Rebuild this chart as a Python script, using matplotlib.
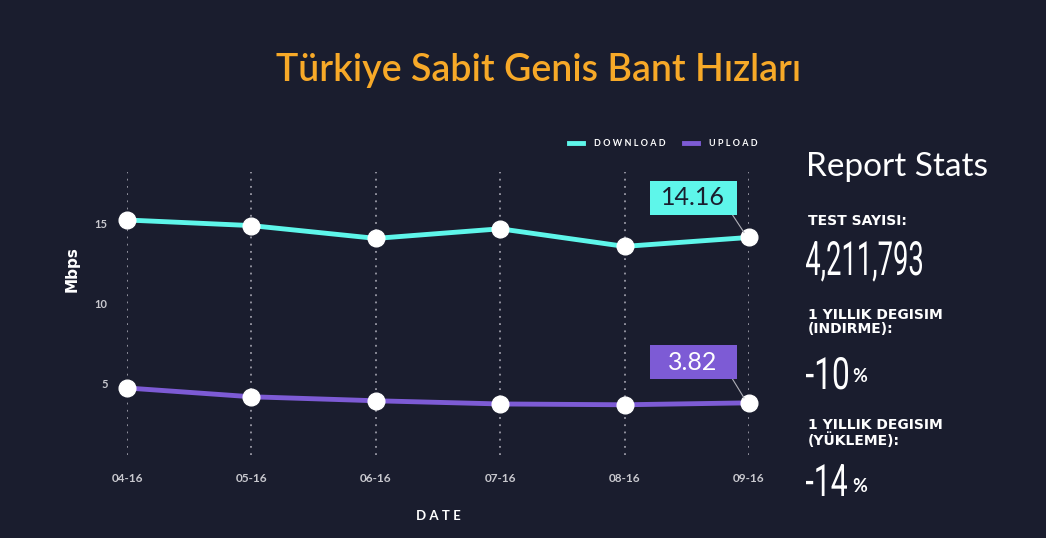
import matplotlib.pyplot as plt
from matplotlib.textpath import TextPath
from matplotlib.patches import PathPatch, Rectangle
from matplotlib.font_manager import FontProperties
from matplotlib.transforms import Affine2D, IdentityTransform

months = ["04-16", "05-16", "06-16", "07-16", "08-16", "09-16"]
download = [15.25, 14.9, 14.1, 14.7, 13.6, 14.16]
upload = [4.75, 4.2, 3.95, 3.75, 3.7, 3.82]
yticks = [5, 10, 15]

stat_labels = ["TEST SAYISI:", "1 YILLIK DEGISIM\n(INDIRME):", "1 YILLIK DEGISIM\n(YÜKLEME):"]
stat_values = ["4,211,793", "-10", "-14"]

BG = '#1a1d2e'
CYAN = '#5ef6ea'
PURPLE = '#7d5bd5'
ORANGE = '#f7a928'
GREY = '#c9c9cf'

plt.rcParams['font.family'] = ['Lato', 'DejaVu Sans']

W, H = 1046, 538
fig = plt.figure(figsize=(W / 100, H / 100), dpi=100, facecolor=BG)


def fx(px):
    return px / W


def fy(py):
    return 1 - py / H


def narrow_text(s, left, base, height, width):
    # condensed numerals: digit path squeezed into a box (pixels, top-left origin)
    prop = FontProperties(family='Roboto', weight='normal')
    tp = TextPath((0, 0), s, size=100, prop=prop)
    ext = tp.get_extents()
    top = TextPath((0, 0), "0", size=100, prop=prop).get_extents().y1
    tr = Affine2D().scale(width / ext.width, height / top)
    tr = tr.translate(left - ext.x0 * width / ext.width, H - base)
    fig.add_artist(PathPatch(tp, transform=tr, fc='white', ec='none'))


ax = fig.add_axes([fx(127), fy(455), fx(749) - fx(127), fy(172) - fy(455)])
ax.set_facecolor(BG)
x = list(range(len(months)))

for xi in x:
    ax.axvline(xi, color='#9a9aa6', linestyle=(0, (1, 3)), linewidth=1.3, zorder=1)

ax.plot(x, download, color=CYAN, linewidth=3.5, zorder=3, clip_on=False)
ax.plot(x, upload, color=PURPLE, linewidth=3.5, zorder=3, clip_on=False)
ax.plot(x, download, 'o', color='white', markersize=12, zorder=4, clip_on=False)
ax.plot(x, upload, 'o', color='white', markersize=12, zorder=4, clip_on=False)

ax.set_xlim(0, 5)
ax.set_ylim(0.56, 18.25)
ax.set_yticks(yticks)
ax.set_yticklabels([str(t) for t in yticks], color=GREY, fontsize=8, fontweight='bold')
ax.set_xticks(x)
ax.set_xticklabels(months, color=GREY, fontsize=8.5, fontweight='bold')
ax.tick_params(length=0, pad=13)
ax.tick_params(axis='y', pad=14)
for s in ax.spines.values():
    s.set_visible(False)

# value callouts on the last point (fixed-size boxes, pixel units)
fig.canvas.draw()
for vals, fc, tc, dy in [(download, CYAN, '#1a1d2e', 2.47), (upload, PURPLE, 'white', 2.55)]:
    cx, cy = ax.transData.transform((4.55, vals[-1] + dy))
    px, py = ax.transData.transform((5, vals[-1]))
    bw, bh = 87, 34
    fig.add_artist(plt.Line2D([cx + bw / 2 - 4, px - 5], [cy - bh / 2, py + 5], color='#b0b0b8',
                              linewidth=0.8, transform=IdentityTransform(), zorder=5))
    fig.add_artist(Rectangle((cx - bw / 2, cy - bh / 2), bw, bh, fc=fc, ec='none',
                             transform=IdentityTransform(), zorder=5))
    fig.text(cx / W, cy / H, f"{vals[-1]:.2f}", color=tc, fontsize=18, ha='center',
             va='center', zorder=6)

fig.text(fx(539), fy(71), "Türkiye Sabit Genis Bant Hızları", color=ORANGE, fontsize=27,
         ha='center', va='center', fontweight='semibold')
fig.text(fx(72), fy(269), "Mbps", color='white', fontsize=11, fontweight='bold',
         rotation=90, ha='center', va='center', family='DejaVu Sans')
fig.text(fx(438), fy(516), "D A T E", color='white', fontsize=9.5, fontweight='bold',
         ha='center', va='center')

# legend
fig.add_artist(plt.Line2D([fx(569), fx(583)], [fy(143)] * 2, color=CYAN, linewidth=3.5))
fig.text(fx(594), fy(143), "D O W N L O A D", color='white', fontsize=6.5, fontweight='bold', va='center')
fig.add_artist(plt.Line2D([fx(684), fx(698)], [fy(143)] * 2, color=PURPLE, linewidth=3.5))
fig.text(fx(709), fy(143), "U P L O A D", color='white', fontsize=6.5, fontweight='bold', va='center')

# report stats panel
fig.text(fx(806), fy(167), "Report Stats", color='white', fontsize=24, va='center')
label_y = [221, 322, 433]
for lab, ly in zip(stat_labels, label_y):
    fig.text(fx(808), fy(ly), lab, color='white', fontsize=10, fontweight='bold',
             va='center', linespacing=1.05, family='DejaVu Sans')

narrow_text(stat_values[0], 806, 275, 34, 116)
narrow_text(stat_values[1], 806, 389, 32, 42)
narrow_text(stat_values[2], 806, 496, 32, 41)
for vy in [376, 487]:
    fig.text(fx(852), fy(vy), "%", color='white', fontsize=13, fontweight='bold', va='center')

fig.savefig("out.png", dpi=100, facecolor=BG)
